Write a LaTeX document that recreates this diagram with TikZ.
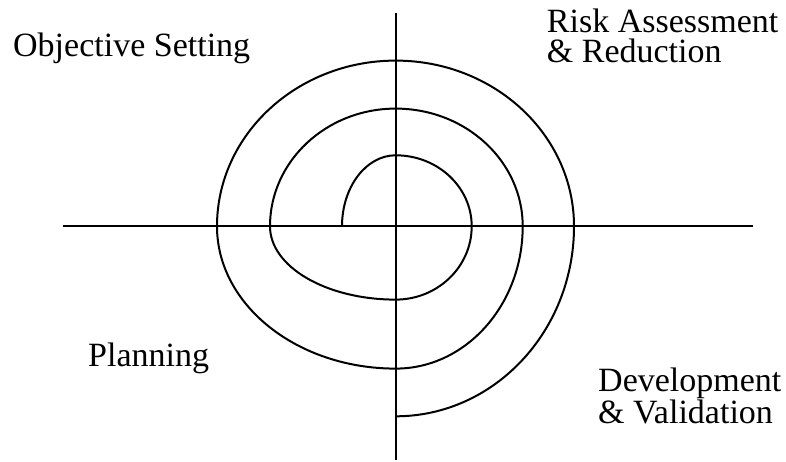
\documentclass[tikz,border=0pt]{standalone}
\usepackage{fontspec}
\setmainfont{Liberation Serif}
\usepackage{tikz}
\usetikzlibrary{calc}

\tikzset{
  quadlabel/.style={anchor=base west, inner sep=0pt, align=left,
    font=\fontsize{34}{30}\selectfont},
  spiral/.style={line width=2pt, line join=round}
}

\begin{document}
\begin{tikzpicture}[x=1pt, y=1pt]
    \useasboundingbox (0,0) rectangle (786,461);
    % 1. Trục
    \coordinate (O) at (395.7,234.7);
    \coordinate (xl) at (63.3,234.7);
    \coordinate (xr) at (753.3,234.7);
    \coordinate (yt) at (395.7,448);
    \coordinate (yb) at (395.7,1);
    \draw[line width=1.9pt] (xl) -- (xr);
    \draw[line width=1.9pt] (yb) -- (yt);

    % 2. Đường xoắn ốc
    \draw[spiral] ($(O)+(-53.7,0)$)
        arc[start angle=180, end angle=90,  x radius=53.7,  y radius=71]
        arc[start angle=90,  end angle=0,   x radius=76,    y radius=71]
        arc[start angle=0,   end angle=-90, x radius=76,    y radius=73.3]
        arc[start angle=-90, end angle=-180,x radius=125.7, y radius=73.3]
        arc[start angle=180, end angle=90,  x radius=125.7, y radius=117.7]
        arc[start angle=90,  end angle=0,   x radius=127,   y radius=117.7]
        arc[start angle=0,   end angle=-90, x radius=127,   y radius=142.3]
        arc[start angle=-90, end angle=-180,x radius=178.7, y radius=142.3]
        arc[start angle=180, end angle=90,  x radius=178.7, y radius=165.7]
        arc[start angle=90,  end angle=0,   x radius=178.3, y radius=165.7]
        arc[start angle=0,   end angle=-90, x radius=178.3, y radius=190];

    % 3. Nhãn
    \node[quadlabel] (objective) at (13,404) {Objective Setting};
    \node[quadlabel] (risk) at (546.7,398) {Risk Assessment\\\& Reduction};
    \node[quadlabel] (planning) at (88,95) {Planning};
    \node[quadlabel] (devel) at (598,38) {Development\\\& Validation};
\end{tikzpicture}
\end{document}
